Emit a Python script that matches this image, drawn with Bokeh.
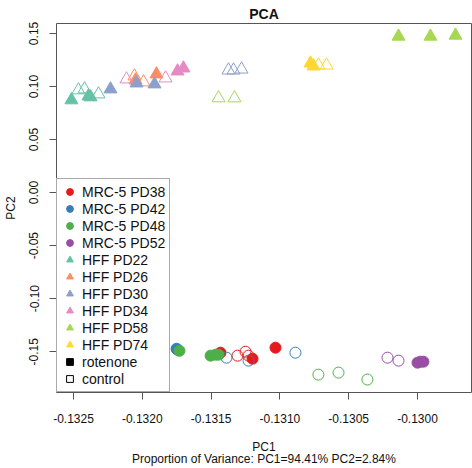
import math
from bokeh.plotting import figure
from bokeh.models import Range1d, FixedTicker, Legend, LegendItem, ColumnDataSource
from bokeh.embed import file_html
from bokeh.resources import INLINE

# ---------------- data ----------------
GROUPS = ["MRC-5 PD38", "MRC-5 PD42", "MRC-5 PD48", "MRC-5 PD52",
          "HFF PD22", "HFF PD26", "HFF PD30", "HFF PD34", "HFF PD58", "HFF PD74"]
TREATMENTS = ["rotenone", "control"]

sample_group = (
    ["MRC-5 PD38"] * 6 + ["MRC-5 PD42"] * 5 + ["MRC-5 PD48"] * 7 + ["MRC-5 PD52"] * 5 +
    ["HFF PD22"] * 6 + ["HFF PD26"] * 4 + ["HFF PD30"] * 6 + ["HFF PD34"] * 4 +
    ["HFF PD58"] * 5 + ["HFF PD74"] * 4
)
treatment = (
    ["rotenone"] * 3 + ["control"] * 3 +
    ["rotenone"] * 2 + ["control"] * 3 +
    ["rotenone"] * 4 + ["control"] * 3 +
    ["rotenone"] * 3 + ["control"] * 2 +
    ["rotenone"] * 3 + ["control"] * 3 +
    ["rotenone"] * 2 + ["control"] * 2 +
    ["rotenone"] * 3 + ["control"] * 3 +
    ["rotenone"] * 2 + ["control"] * 2 +
    ["rotenone"] * 3 + ["control"] * 2 +
    ["rotenone"] * 2 + ["control"] * 2
)
pc1 = [
    -0.131432, -0.131199, -0.131032, -0.131308, -0.131250, -0.131228,
    -0.131751, -0.131744, -0.131388, -0.131228, -0.130887,
    -0.131730, -0.131504, -0.131468, -0.131446, -0.130720, -0.130574, -0.130364,
    -0.130000, -0.129978, -0.129957, -0.130218, -0.130138,
    -0.132515, -0.132391, -0.132376, -0.132464, -0.132420, -0.132318,
    -0.132049, -0.131897, -0.132057, -0.131991,
    -0.132231, -0.132042, -0.131911, -0.131374, -0.131337, -0.131279,
    -0.131744, -0.131701, -0.132115, -0.131831,
    -0.130138, -0.129906, -0.129724, -0.131446, -0.131330,
    -0.130778, -0.130756, -0.130720, -0.130661,
]
pc2 = [
    -0.1509, -0.1566, -0.1462, -0.1537, -0.1500, -0.1537,
    -0.1472, -0.1481, -0.1556, -0.1584, -0.1509,
    -0.1491, -0.1537, -0.1528, -0.1528, -0.1716, -0.1697, -0.1762,
    -0.1603, -0.1594, -0.1594, -0.1556, -0.1584,
    0.0872, 0.0909, 0.0900, 0.0966, 0.0975, 0.0928,
    0.1059, 0.1116, 0.1097, 0.1041,
    0.0975, 0.1031, 0.1022, 0.1153, 0.1153, 0.1162,
    0.1144, 0.1172, 0.1069, 0.1078,
    0.1472, 0.1472, 0.1481, 0.0891, 0.0891,
    0.1219, 0.1191, 0.1200, 0.1200,
]

X_TICKS = [-0.1325, -0.1320, -0.1315, -0.1310, -0.1305, -0.1300]
X_TICK_LABELS = ["-0.1325", "-0.1320", "-0.1315", "-0.1310", "-0.1305", "-0.1300"]
Y_TICKS = [-0.15, -0.10, -0.05, 0.00, 0.05, 0.10, 0.15]
Y_TICK_LABELS = ["-0.15", "-0.10", "-0.05", "0.00", "0.05", "0.10", "0.15"]

TITLE = "PCA"
X_LABEL = "PC1"
Y_LABEL = "PC2"
SUBTITLE = "Proportion of Variance: PC1=94.41% PC2=2.84%"

# ---------------- style ----------------
GROUP_COLORS = ["#E41A1C", "#377EB8", "#4DAF4A", "#984EA3",
                "#66C2A5", "#FC8D62", "#8DA0CB", "#E78AC3", "#A6D854", "#FFD92F"]
GROUP_MARKERS = ["circle"] * 4 + ["triangle"] * 6
FONT = "Liberation Sans"
FRAME_COLOR = "#555555"
TEXT_COLOR = "#111111"

W, H = 472, 468
ML, MR, MT, MB = 56, 1, 23, 74

p = figure(width=W, height=H, output_backend="svg", toolbar_location=None,
           title=TITLE,
           x_range=Range1d(-0.1326235, -0.1296076),
           y_range=Range1d(-0.18844, 0.15937),
           min_border_left=ML, min_border_right=MR,
           min_border_top=MT, min_border_bottom=MB)
p.title.align = "center"
p.title.vertical_align = "top"
p.title.text_font = FONT
p.title.text_font_size = "14px"
p.title.text_font_style = "bold"
p.title.text_color = TEXT_COLOR
p.title.standoff = 0

p.background_fill_color = "white"
p.border_fill_color = "white"
p.outline_line_color = FRAME_COLOR
p.outline_line_width = 1
p.xgrid.visible = False
p.ygrid.visible = False

for ax in (p.xaxis[0], p.yaxis[0]):
    ax.axis_line_color = None
    ax.major_tick_in = 0
    ax.major_tick_out = 7
    ax.minor_tick_in = 0
    ax.minor_tick_out = 0
    ax.major_tick_line_color = FRAME_COLOR
    ax.major_label_text_font = FONT
    ax.major_label_text_font_size = "12px"
    ax.major_label_text_color = TEXT_COLOR
    ax.axis_label_text_font = FONT
    ax.axis_label_text_font_size = "12px"
    ax.axis_label_text_font_style = "normal"
    ax.axis_label_text_color = TEXT_COLOR

p.xaxis[0].ticker = FixedTicker(ticks=X_TICKS)
p.xaxis[0].major_label_overrides = dict(zip(X_TICKS, X_TICK_LABELS))
p.xaxis[0].major_label_standoff = 14
p.xaxis[0].axis_label = X_LABEL + "\n" + SUBTITLE
p.xaxis[0].axis_label_standoff = 14
p.xaxis[0].axis_label_text_line_height = 0.88

p.yaxis[0].ticker = FixedTicker(ticks=Y_TICKS)
p.yaxis[0].major_label_overrides = dict(zip(Y_TICKS, Y_TICK_LABELS))
p.yaxis[0].major_label_orientation = "vertical"
p.yaxis[0].major_label_standoff = 11
p.yaxis[0].axis_label = Y_LABEL
p.yaxis[0].axis_label_standoff = 9

# points
for g, col, mk in zip(GROUPS, GROUP_COLORS, GROUP_MARKERS):
    for t in TREATMENTS:
        idx = [i for i in range(len(pc1)) if sample_group[i] == g and treatment[i] == t]
        if not idx:
            continue
        src = ColumnDataSource(dict(x=[pc1[i] for i in idx], y=[pc2[i] for i in idx]))
        size = 11 if mk == "circle" else 13
        if t == "rotenone":
            p.scatter("x", "y", source=src, marker=mk, size=size,
                      fill_color=col, line_color=col, line_width=1)
        else:
            p.scatter("x", "y", source=src, marker=mk, size=size,
                      fill_color=None, line_color=col, line_width=1)

# legend (renderers hold a single NaN point so that only their legend glyph is drawn)
NAN = [float("nan")]
items = []
for g, col, mk in zip(GROUPS, GROUP_COLORS, GROUP_MARKERS):
    r = p.scatter(x=NAN, y=NAN, marker=mk, fill_color=col, line_color=col)
    items.append(LegendItem(label=g, renderers=[r]))
r_rot = p.scatter(x=NAN, y=NAN, marker="square", fill_color="black", line_color="black")
items.append(LegendItem(label="rotenone", renderers=[r_rot]))
r_ctl = p.scatter(x=NAN, y=NAN, marker="square", fill_color=None, line_color="black")
items.append(LegendItem(label="control", renderers=[r_ctl]))

legend = Legend(items=items, location="bottom_left", margin=0, padding=4, spacing=0,
                glyph_width=17, glyph_height=17, label_height=17, label_standoff=4,
                label_text_font=FONT, label_text_font_size="14px",
                label_text_color=TEXT_COLOR,
                border_line_color=FRAME_COLOR, border_line_width=1,
                background_fill_color="white", background_fill_alpha=1)
p.add_layout(legend)

open("out.html", "w").write(file_html(p, INLINE))
